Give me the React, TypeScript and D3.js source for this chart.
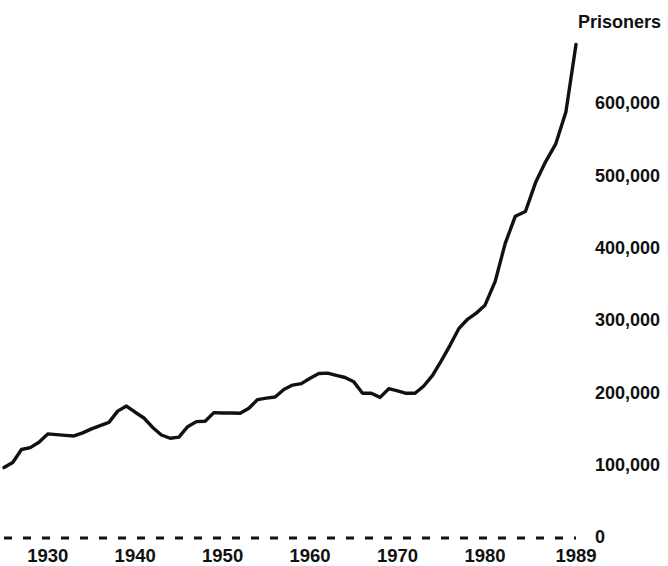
import React, { useRef, useEffect } from "react"
import * as d3 from "d3"

// prisoners in state and federal institutions
const years = [
  1925, 1926, 1927, 1928, 1929, 1930, 1931, 1932, 1933, 1934,
  1935, 1936, 1937, 1938, 1939, 1940, 1941, 1942, 1943, 1944,
  1945, 1946, 1947, 1948, 1949, 1950, 1951, 1952, 1953, 1954,
  1955, 1956, 1957, 1958, 1959, 1960, 1961, 1962, 1963, 1964,
  1965, 1966, 1967, 1968, 1969, 1970, 1971, 1972, 1973, 1974,
  1975, 1976, 1977, 1978, 1979, 1980, 1981, 1982, 1983, 1984,
  1985, 1986, 1987, 1988, 1989,
]
const prisoners = [
  96000, 103000, 121000, 123500, 131000, 142500, 141500, 140500, 139700, 144000,
  149500, 154000, 158500, 174000, 181000, 172500, 164500, 151500, 141000, 136500,
  138000, 152500, 159500, 160000, 172000, 171500, 171500, 171000, 178000, 190000,
  192000, 193500, 204000, 210000, 212000, 219500, 226000, 226500, 223500, 220500,
  214500, 198700, 198700, 193000, 205000, 202000, 198700, 198700, 208700, 223500,
  243500, 265000, 288000, 301000, 309500, 320500, 353000, 406000, 443500, 450000,
  490000, 519000, 543600, 587700, 681000,
]
const yearTicks = [1930, 1940, 1950, 1960, 1970, 1980, 1989]
const prisonerTicks = [0, 100000, 200000, 300000, 400000, 500000, 600000]

const W = 668
const H = 566
const font = "'Liberation Sans', Arial, Helvetica, sans-serif"

function PrisonChart() {
  const ref = useRef<SVGSVGElement>(null)

  useEffect(() => {
    draw()
  }, [])

  function draw() {
    const svg = d3.select(ref.current)
    svg.selectAll("*").remove()

    const data = years.map((y, i) => ({ year: y, value: prisoners[i] }))

    // the original's last decade is drawn a little wider than the rest
    const x = d3.scaleLinear().domain([1925, 1980, 1989]).range([4, 485, 576])
    const y = d3.scaleLinear().domain([0, 600000]).range([537, 103])

    // zero baseline, dashed
    svg
      .append("line")
      .attr("x1", x(1925))
      .attr("x2", x(1989))
      .attr("y1", y(0) + 1)
      .attr("y2", y(0) + 1)
      .attr("stroke", "#111")
      .attr("stroke-width", 3)
      .attr("stroke-dasharray", "8 11")

    const line = d3
      .line<{ year: number; value: number }>()
      .x(d => x(d.year))
      .y(d => y(d.value))

    svg
      .append("path")
      .datum(data)
      .attr("d", line)
      .attr("fill", "none")
      .attr("stroke", "#111")
      .attr("stroke-width", 3.4)
      .attr("stroke-linejoin", "round")
      .attr("stroke-linecap", "round")

    const fmt = d3.format(",")

    svg
      .append("g")
      .selectAll("text")
      .data(prisonerTicks)
      .join("text")
      .attr("x", 595)
      .attr("y", d => y(d))
      .attr("dy", "0.36em")
      .attr("font-family", font)
      .attr("font-weight", "bold")
      .attr("font-size", 18)
      .attr("fill", "#111")
      .text(d => fmt(d))

    svg
      .append("g")
      .selectAll("text")
      .data(yearTicks)
      .join("text")
      .attr("x", d => x(d))
      .attr("y", 562)
      .attr("text-anchor", "middle")
      .attr("font-family", font)
      .attr("font-weight", "bold")
      .attr("font-size", 18.5)
      .attr("fill", "#111")
      .text(d => d)

    svg
      .append("text")
      .attr("x", 578)
      .attr("y", 28)
      .attr("font-family", font)
      .attr("font-weight", "bold")
      .attr("font-size", 18)
      .attr("fill", "#111")
      .text("Prisoners")
  }

  return (
    <svg
      ref={ref}
      width={W}
      height={H}
      style={{ position: "absolute", left: 0, top: 0, background: "#fff" }}
    />
  )
}

export default function App() {
  return <PrisonChart />
}
